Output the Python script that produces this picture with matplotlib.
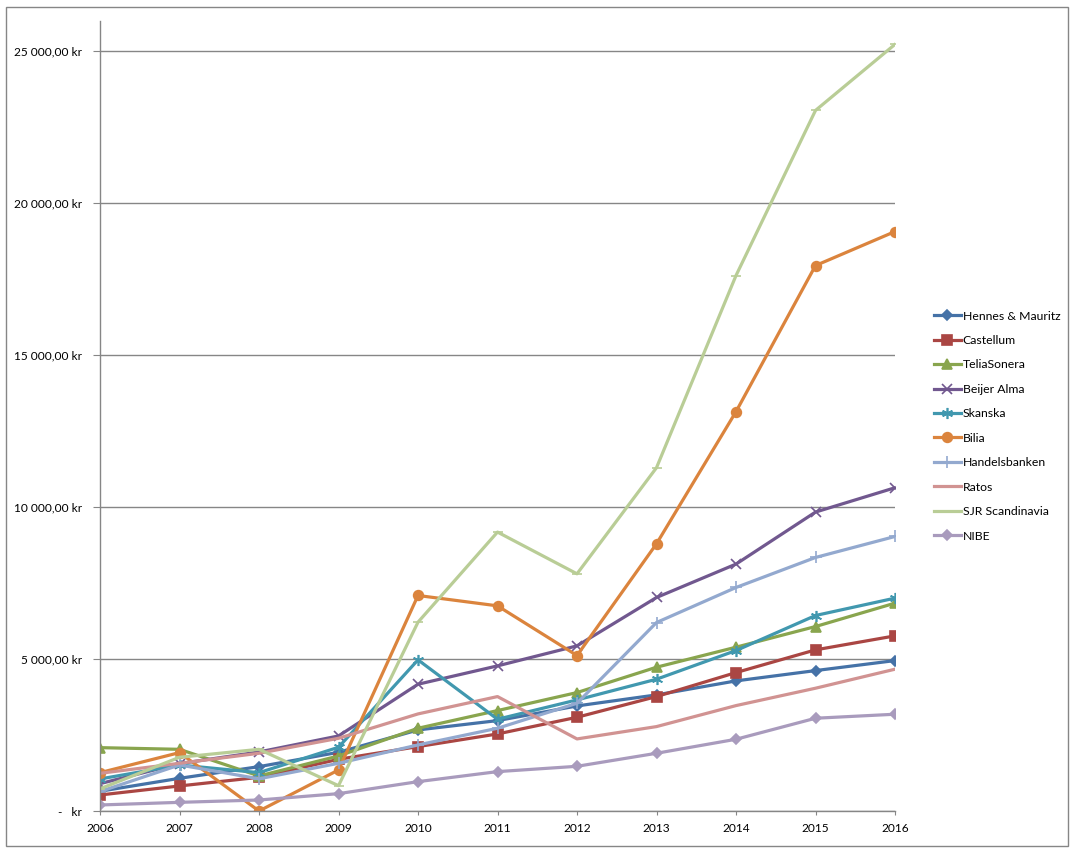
import matplotlib
matplotlib.use("Agg")
import matplotlib.pyplot as plt
from matplotlib.patches import Rectangle

years = [2006, 2007, 2008, 2009, 2010, 2011, 2012, 2013, 2014, 2015, 2016]

hm = [650, 1076, 1460, 1932, 2668, 2975, 3458, 3821, 4282, 4621, 4951]
castellum = [527, 824, 1109, 1702, 2119, 2536, 3085, 3766, 4556, 5303, 5764]
telia = [2085, 2030, 1153, 1811, 2723, 3305, 3898, 4732, 5391, 6071, 6841]
beijer = [900, 1560, 1943, 2470, 4172, 4776, 5435, 7027, 8126, 9838, 10639]
skanska = [1054, 1515, 1262, 2097, 4974, 3020, 3656, 4337, 5281, 6434, 7006]
bilia = [1262, 1922, 0, 1350, 7093, 6752, 5117, 8794, 13142, 17951, 19071]
handels = [640, 1515, 1060, 1570, 2174, 2723, 3546, 6203, 7356, 8344, 9035]
ratos = [1240, 1570, 1900, 2393, 3195, 3766, 2372, 2778, 3469, 4041, 4667]
sjr = [730, 1768, 2030, 834, 6214, 9180, 7806, 11298, 17622, 23057, 25231]
nibe = [198, 285, 362, 571, 966, 1296, 1471, 1900, 2361, 3053, 3185]

names = ["Hennes & Mauritz", "Castellum", "TeliaSonera", "Beijer Alma", "Skanska",
         "Bilia", "Handelsbanken", "Ratos", "SJR Scandinavia", "NIBE"]
series = [hm, castellum, telia, beijer, skanska, bilia, handels, ratos, sjr, nibe]
colors = ["#4572A7", "#AA4643", "#89A54E", "#71588F", "#4198AF",
          "#DB843D", "#93A9CF", "#D19392", "#B9CD96", "#A99BBD"]
markers = ["D", "s", "^", "x", (6, 2, 0), "o", "+", "None", "_", "D"]
msizes = [5, 6.5, 7, 7, 8, 7, 8, 0, 7, 5]

plt.rcParams['font.family'] = ['Lato', 'DejaVu Sans']

fig = plt.figure(figsize=(10.73, 8.52), dpi=100)
ax = fig.add_axes([100/1073, 1-811/852, (895-100)/1073, (811-21)/852])

for vals, name, c, m, ms in zip(series, names, colors, markers, msizes):
    ax.plot(years, vals, color=c, lw=2.3, marker=m, markersize=ms,
            markeredgewidth=1.2, markerfacecolor=c, markeredgecolor=c, label=name)

ax.set_xlim(2006, 2016)
ax.set_ylim(0, 26000)
yt = [0, 5000, 10000, 15000, 20000, 25000]
def fmt(v):
    if v == 0:
        return "-   kr"
    s = f"{v:,.2f}"
    s = s.replace(",", " ").replace(".", ",")
    return s + " kr"
ax.set_yticks(yt)
ax.set_yticklabels([fmt(v) for v in yt], fontsize=8.6)
ax.set_xticks(years)
ax.set_xticklabels([str(y) for y in years], fontsize=8.6)
ax.grid(axis='y', color='#868686', lw=1)
ax.set_axisbelow(True)
for s in ['top', 'right']:
    ax.spines[s].set_visible(False)
for s in ['left', 'bottom']:
    ax.spines[s].set_color('#868686')
    ax.spines[s].set_linewidth(1)
ax.tick_params(axis='y', length=5, color='#868686', pad=8)
ax.tick_params(axis='x', length=3, color='#868686', pad=6)

leg = ax.legend(loc='center left', bbox_to_anchor=(923/1073, 1-426/852),
                bbox_transform=fig.transFigure, frameon=False, fontsize=8.8,
                handlelength=2.2, handletextpad=0.15, labelspacing=1.1)

fig.patches.append(Rectangle((6/1073, 1-846/852), (1068-6)/1073, (846-7)/852,
                             transform=fig.transFigure, fill=False,
                             edgecolor='#868686', lw=1))

fig.savefig("out.png", dpi=100)
